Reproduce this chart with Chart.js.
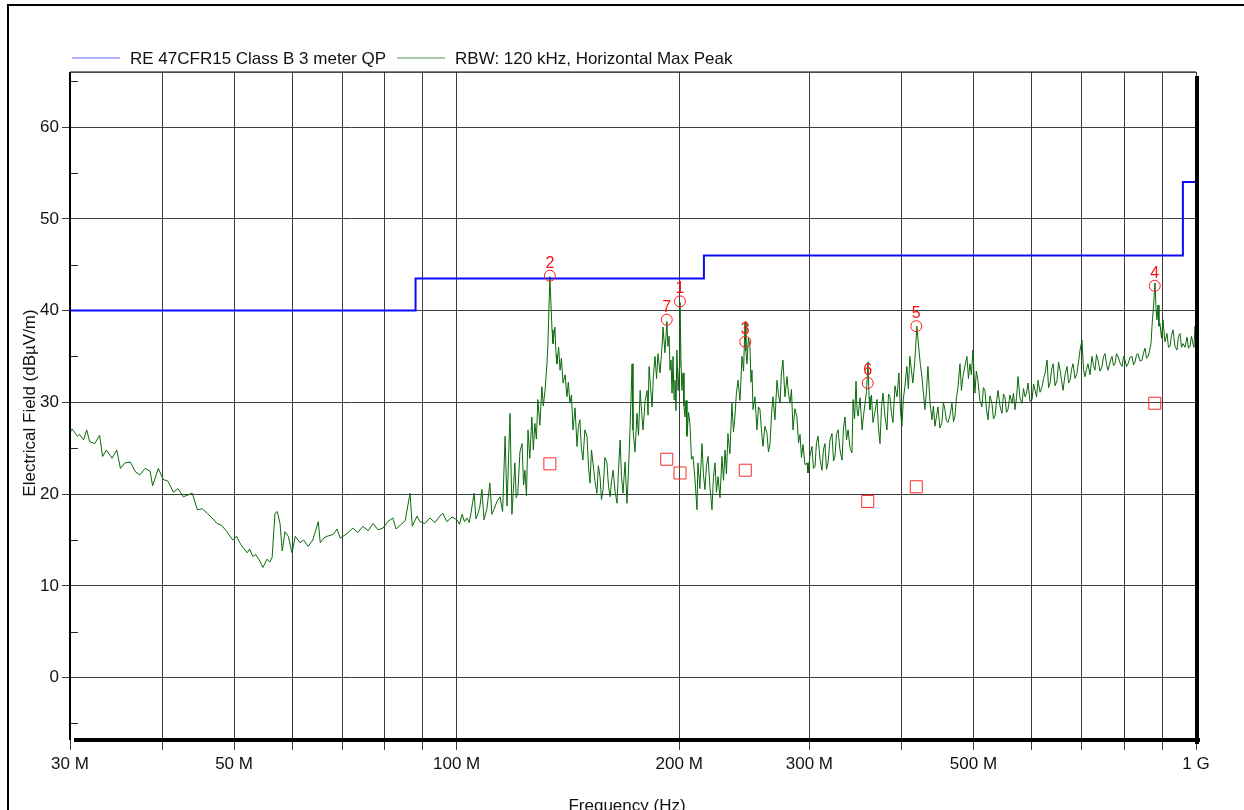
<!DOCTYPE html>
<html>
<head>
<meta charset="utf-8">
<script src="https://cdn.jsdelivr.net/npm/chart.js@4.4.1/dist/chart.umd.min.js"></script>
<style>
  html, body { margin: 0; padding: 0; background: #fff; }
  #wrap { width: 1244px; height: 810px; }
</style>
</head>
<body>
<div id="wrap"><canvas id="emc" width="1244" height="810"></canvas></div>
<script>
// Radiated emission scan, 30 MHz - 1 GHz (values in MHz / dBuV/m)

const xTickMHz = [30, 40, 50, 60, 70, 80, 90, 100, 200, 300, 400, 500, 600, 700, 800, 900, 1000];
const xTickText = ['30 M', '', '50 M', '', '', '', '', '100 M', '200 M', '300 M', '', '500 M', '', '', '', '', '1 G'];
const yTickValues = [-5, 0, 5, 10, 15, 20, 25, 30, 35, 40, 45, 50, 55, 60, 65];

// FCC part 15 class B, 3 m, quasi-peak limit
const limitMHz = [30, 88, 88, 216, 216, 960, 960, 1000];
const limitDb = [40, 40, 43.5, 43.5, 46, 46, 54, 54];

// max peak sweep (horizontal)
const sweepMHz = [
  30.0, 30.2, 30.7, 30.9, 31.3, 31.6, 31.9, 32.4, 32.9, 33.2, 33.6, 34.2, 34.7, 35.1, 35.6, 36.2,
  36.8, 37.3, 37.9, 38.5, 38.8, 39.5, 40.1, 40.7, 41.4, 42.0, 42.7, 43.3, 43.9, 44.6, 45.3, 46.0,
  46.7, 47.4, 48.1, 48.9, 49.8, 50.4, 50.9, 51.5, 52.1, 52.5, 53.0, 53.5, 54.2, 54.7, 55.4, 55.9,
  56.3, 56.8, 57.2, 57.7, 58.1, 58.6, 59.2, 59.9, 60.5, 61.4, 62.1, 63.0, 63.9, 65.0, 65.4, 66.1,
  66.8, 68.1, 68.9, 69.6, 71.1, 72.4, 73.5, 74.7, 75.9, 77.1, 78.3, 79.5, 80.7, 82.0, 82.8, 83.9,
  85.2, 86.5, 87.1, 88.4,
  89.2, 90.6, 92.0, 93.5, 94.9, 95.8, 97.0, 98.6,
  100.1, 100.9, 101.7, 102.5, 103.3, 104.0, 104.6, 105.6, 106.2, 106.9,
  107.5, 108.2, 108.9, 109.9, 110.9, 111.6, 112.3, 113.4, 114.5, 115.4,
  116.3, 117.0, 118.1, 118.8, 119.9, 120.4, 121.0, 121.8, 122.6, 123.2,
  123.7, 124.3, 124.9, 125.6, 126.4, 127.0, 127.6, 128.2, 128.8, 129.6,
  130.4, 131.0, 131.7, 132.5, 132.9, 133.7, 134.6, 135.0, 135.8, 136.3,
  136.7, 137.4, 138.0, 138.6, 139.3, 140.2, 141.0, 141.6, 142.3, 143.0,
  143.7, 144.6, 145.5, 146.1, 146.8, 147.5, 148.2, 149.1, 150.1, 150.8,
  151.5, 152.2, 152.9, 153.8, 154.8, 155.5, 156.3, 157.0, 157.8, 158.7,
  159.7, 160.5, 161.3, 162.0, 162.8, 163.8, 164.8, 165.6, 166.4, 167.1,
  167.9, 169.0, 170.0, 170.8, 171.6, 172.2, 172.7, 173.2, 174.3, 175.4,
  176.2, 177.1, 177.9, 178.7, 179.9, 181.0, 181.5, 182.1, 183.0, 183.8,
  184.6, 185.5, 186.4, 187.2, 188.4, 189.6, 190.2, 191.3, 192.5, 193.1,
  193.8, 194.4, 195.0, 195.6, 196.2, 196.8, 197.4, 198.0, 198.6, 199.3,
  200.1, 200.5, 201.1, 201.7, 202.4, 203.0, 203.6, 204.3, 204.9, 205.9,
  206.8, 207.8, 208.8, 210.1, 211.4, 212.0, 213.3, 214.7, 215.7, 216.7,
  217.7, 218.8, 220.1, 221.5, 222.5, 223.6, 224.6, 225.7, 227.1, 228.5,
  229.6, 230.7, 231.7, 232.8, 234.2, 235.7, 236.8, 237.9, 239.0, 240.2,
  241.7, 243.2, 244.4, 245.5, 246.2, 247.0, 248.1, 249.3, 250.1, 250.9,
  251.7, 253.2, 254.8, 256.0, 257.2, 258.4, 259.6, 261.2, 262.9, 264.1,
  265.4, 266.6, 267.8, 269.5, 271.2, 272.5, 273.8, 275.0, 276.3, 278.0,
  279.8, 281.1, 282.4, 283.7, 285.1, 286.8, 288.6, 290.0, 291.4, 292.7,
  294.1, 295.9, 297.8, 298.7, 300.5, 302.4, 303.8, 305.3, 306.7, 308.2,
  310.1, 312.0, 313.4, 314.9, 316.4, 317.9, 319.9, 321.9, 323.4, 324.9,
  326.4, 328.0, 330.0, 332.1, 333.6, 335.2, 336.8, 338.4, 340.5, 342.6,
  343.7, 345.3, 346.9, 348.0, 349.1, 351.3, 353.5, 355.1, 356.8, 358.4,
  360.1, 361.2, 362.3, 364.0, 365.7, 368.0, 370.3, 372.0, 373.8, 375.5,
  377.3, 379.6, 382.0, 383.8, 385.6, 387.4, 389.2, 391.6, 394.1, 396.5,
  398.4, 400.2, 402.0, 403.9, 406.4, 408.3, 410.2, 412.1, 414.0, 416.6,
  419.3, 422.0, 424.0, 425.9, 427.9, 429.9, 432.0, 434.0, 436.7, 439.4,
  441.4, 443.5, 445.6, 447.7, 450.5, 453.3, 455.4, 457.5, 459.7, 461.9,
  464.8, 467.7, 469.9, 472.1, 474.3, 476.6, 479.5, 481.7, 484.0, 487.0,
  490.0, 492.3, 494.6, 496.9, 499.2, 502.3, 504.6, 507.0, 510.2, 513.4,
  515.8, 518.3, 520.7, 523.2, 526.4, 529.7, 532.2, 534.7, 537.2, 539.8,
  543.1, 546.5, 549.0, 551.6, 554.2, 556.8, 560.3, 563.8, 566.4, 569.1,
  571.8, 574.5, 578.1, 581.7, 584.4, 587.2, 589.9, 592.7, 596.4, 600.2,
  603.0, 605.8, 608.6, 611.5, 615.3, 619.2, 622.1, 625.0, 628.9, 631.8,
  634.8, 637.8, 640.8, 644.8, 648.8, 651.8, 654.9, 657.9, 661.0, 665.1,
  669.3, 672.4, 675.6, 678.7, 681.9, 686.1, 690.4, 693.6, 696.9, 701.2,
  704.4, 707.7, 711.0, 714.4, 718.8, 723.3, 726.7, 730.1, 733.5, 737.0,
  741.6, 746.3, 749.8, 753.4, 756.9, 760.4, 765.1, 769.9, 773.5, 777.1,
  780.7, 784.4, 789.3, 794.3, 798.0, 801.7, 805.5, 809.3, 814.3, 819.4,
  823.2, 827.1, 831.0, 834.9, 840.1, 845.4, 849.3, 853.3, 857.3, 861.4,
  865.3, 869.2, 872.0, 876.1, 880.2, 883.0, 885.7, 888.4, 891.1, 893.9,
  898.1, 902.3, 907.9, 913.6, 917.9, 922.2, 926.5, 930.9, 936.7, 942.5,
  946.9, 951.4, 955.9, 960.4, 966.4, 972.4, 976.9, 981.4, 986.0, 990.6,
  993.7, 996.8, 1000
];
const sweepDb = [
  26.7, 27.1, 26.3, 26.5, 25.9, 27.0, 25.7, 25.5, 26.4, 24.1, 24.8, 23.9, 24.8, 22.8, 23.4, 23.5,
  22.4, 22.1, 22.8, 22.5, 20.9, 22.8, 21.6, 21.4, 20.2, 20.6, 19.7, 19.9, 20.1, 18.3, 18.4, 17.9,
  17.4, 16.8, 16.6, 15.9, 15.0, 15.4, 14.7, 14.1, 13.6, 14.0, 13.2, 13.4, 12.7, 12.0, 12.9, 12.6,
  13.1, 17.9, 18.1, 16.8, 13.8, 15.9, 15.4, 13.6, 15.4, 14.7, 15.0, 14.3, 15.0, 17.0, 14.7, 15.2,
  15.4, 15.6, 16.2, 15.2, 15.7, 16.3, 15.8, 16.5, 16.0, 16.8, 16.1, 16.3, 17.0, 17.4, 16.2, 16.6,
  17.1, 20.1, 16.5, 17.6,
  17.0, 16.8, 17.4, 16.9, 17.6, 17.9, 17.0, 17.5,
  17.2, 16.7, 17.8, 17.0, 17.4, 16.9, 18.0, 20.1, 17.3, 17.9,
  18.6, 20.5, 17.2, 18.4, 21.2, 17.8, 18.3, 19.2, 19.7, 18.1,
  26.3, 18.7, 28.8, 17.8, 23.4, 19.6, 20.1, 24.6, 25.5, 21.0,
  22.6, 19.8, 27.0, 23.9, 28.4, 24.8, 27.7, 26.0, 30.3, 27.5,
  31.7, 29.6, 31.3, 34.2, 36.4, 43.7, 37.9, 36.4, 38.2, 35.2,
  34.2, 36.0, 33.5, 34.8, 32.1, 33.0, 30.6, 32.2, 29.9, 30.8,
  27.0, 29.4, 25.2, 27.3, 28.1, 25.0, 23.7, 27.0, 26.3, 22.9,
  21.2, 24.8, 23.4, 21.5, 20.1, 23.1, 21.9, 19.4, 20.5, 24.0,
  23.4, 20.8, 19.7, 21.4, 22.6, 20.3, 19.0, 22.8, 25.9, 21.9,
  20.1, 23.5, 19.0, 22.6, 27.0, 30.8, 34.2, 27.0, 24.6, 28.8,
  26.4, 31.3, 29.0, 27.0, 30.2, 31.3, 28.6, 33.9, 31.4, 29.5,
  33.0, 35.0, 32.6, 35.3, 33.2, 36.1, 38.2, 35.4, 38.8, 36.1,
  37.2, 33.5, 34.6, 31.0, 35.0, 30.3, 32.4, 29.1, 35.7, 31.3,
  33.8, 40.9, 34.6, 31.3, 33.2, 29.6, 28.4, 30.2, 26.3, 28.9,
  27.7, 23.8, 24.1, 21.6, 18.3, 23.4, 20.6, 25.5, 22.1, 20.5,
  23.0, 24.1, 20.8, 18.3, 21.8, 23.4, 20.2, 21.9, 19.6, 24.1,
  21.5, 24.8, 22.2, 26.6, 24.4, 29.9, 26.8, 28.4, 31.0, 32.4,
  30.2, 35.0, 33.4, 38.8, 35.6, 34.2, 37.0, 36.1, 32.2, 33.5,
  29.2, 30.6, 27.0, 29.5, 29.2, 27.0, 25.2, 27.4, 26.6, 24.6,
  25.5, 28.6, 30.6, 28.1, 32.4, 30.8, 29.9, 33.2, 34.6, 30.6,
  32.8, 31.0, 29.9, 31.4, 27.0, 29.3, 28.4, 25.6, 26.5, 24.0,
  25.4, 23.2, 23.4, 22.3, 24.1, 25.2, 22.8, 23.0, 25.6, 26.3,
  23.8, 22.6, 24.8, 25.5, 22.7, 23.4, 25.9, 26.6, 23.6, 24.1,
  26.5, 27.0, 24.8, 23.7, 27.2, 28.4, 25.9, 27.0, 25.0, 24.5,
  30.3, 28.2, 32.3, 29.1, 28.5, 30.5, 27.0, 28.6, 29.9, 31.2,
  34.4, 30.6, 29.2, 30.8, 27.8, 29.0, 30.3, 27.2, 25.5, 29.4,
  31.0, 28.5, 27.0, 30.9, 30.6, 28.8, 27.8, 31.8, 30.6, 33.2,
  29.0, 27.4, 30.4, 31.7, 33.9, 31.5, 35.0, 33.6, 32.1, 34.5,
  38.3, 35.7, 34.0, 32.8, 31.0, 29.2, 31.3, 33.9, 30.0, 28.1,
  29.6, 27.4, 28.4, 29.5, 27.2, 27.8, 30.0, 29.2, 28.0, 27.8,
  28.6, 29.9, 27.9, 28.5, 30.5, 31.7, 34.2, 31.3, 32.8, 34.0,
  35.0, 32.6, 34.2, 33.0, 35.7, 31.0, 33.4, 32.4, 30.2, 29.5,
  31.6, 31.3, 29.3, 28.1, 30.7, 29.9, 28.2, 28.5, 30.0, 31.3,
  29.6, 28.8, 30.9, 30.6, 28.9, 29.2, 30.8, 29.9, 31.0, 29.2,
  30.5, 32.8, 30.4, 29.9, 31.5, 30.6, 31.0, 32.1, 30.1, 30.3,
  32.0, 31.3, 30.6, 32.4, 31.1, 31.7, 32.6, 33.2, 34.6, 31.6,
  32.1, 33.6, 34.2, 31.8, 32.4, 34.4, 33.5, 32.4, 31.3, 33.0,
  33.9, 32.1, 32.4, 33.6, 34.2, 32.6, 33.2, 34.4, 35.7, 36.8,
  33.6, 32.8, 33.6, 34.2, 33.0, 35.0, 34.0, 33.5, 35.2, 34.6,
  33.4, 33.9, 35.0, 35.3, 34.1, 33.5, 34.4, 35.0, 34.0, 34.2,
  35.3, 35.0, 34.3, 33.9, 35.0, 34.6, 33.9, 34.2, 34.9, 35.0,
  34.1, 34.4, 35.2, 35.3, 34.5, 34.6, 35.4, 35.9, 34.8, 35.0,
  35.6, 36.4, 38.3, 40.5, 43.0, 40.1, 39.0, 40.6, 38.3, 38.6,
  37.0, 39.0, 36.6, 37.5, 36.0, 36.1, 37.3, 37.9, 36.1, 35.7,
  37.2, 37.5, 36.0, 36.4, 36.0, 37.1, 35.9, 36.1, 37.2, 36.4,
  36.0, 38.3, 37.6
];

// final measurement markers
const markerNo = ['1', '2', '3', '4', '5', '6', '7'];
const markerMHz = [200.5, 133.7, 245.7, 879.4, 418.5, 359.8, 192.4];
const peakDb = [41.0, 43.8, 36.6, 42.7, 38.3, 32.1, 39.0];
const qpDb = [22.3, 23.3, 22.6, 29.9, 20.8, 19.2, 23.8];

const FONT = '"Liberation Sans", Arial, sans-serif';
const GRID = '#3c3c3c';

const toXY = (xs, ys) => xs.map((x, i) => ({ x: x, y: ys[i] }));

const decor = {
  id: 'decor',
  beforeDraw(chart) {
    const ctx = chart.ctx;
    ctx.save();
    ctx.fillStyle = '#fff';
    ctx.fillRect(0, 0, chart.width, chart.height);
    // outer frame of the report page
    ctx.fillStyle = '#000';
    ctx.fillRect(7, 4, chart.width, 2);
    ctx.fillRect(7, 4, 2, chart.height);
    ctx.restore();
  },
  afterDraw(chart) {
    const ctx = chart.ctx;
    const a = chart.chartArea;
    const ys = chart.scales.y;
    ctx.save();

    // plot frame with drop shadow right/bottom
    ctx.fillStyle = '#000';
    ctx.fillRect(a.left, a.top - 0.5, a.right - a.left, 1.2);
    ctx.fillRect(a.left - 1, a.top, 2, a.bottom - a.top);
    ctx.fillRect(a.right - 1, a.top + 4, 4, a.bottom - a.top);
    ctx.fillRect(a.left + 4, a.bottom - 2, a.right - a.left, 4);

    // minor y ticks drawn inward
    ctx.strokeStyle = '#222';
    ctx.lineWidth = 1;
    yTickValues.filter(v => v % 10 !== 0).forEach(v => {
      const py = Math.round(ys.getPixelForValue(v)) + 0.5;
      ctx.beginPath();
      ctx.moveTo(a.left, py);
      ctx.lineTo(a.left + 8, py);
      ctx.stroke();
    });

    // legend
    ctx.font = '17px ' + FONT;
    ctx.textBaseline = 'middle';
    ctx.textAlign = 'left';
    let lx = a.left + 2;
    [chart.data.datasets[1], chart.data.datasets[0]].forEach(ds => {
      ctx.strokeStyle = ds.legendColor;
      ctx.lineWidth = 1.2;
      ctx.beginPath();
      ctx.moveTo(lx, 58);
      ctx.lineTo(lx + 48, 58);
      ctx.stroke();
      ctx.fillStyle = '#111';
      ctx.fillText(ds.label, lx + 58, 59);
      lx += 58 + ctx.measureText(ds.label).width + 11;
    });

    // marker numbers above the peak circles
    const meta = chart.getDatasetMeta(2);
    ctx.fillStyle = '#ff1010';
    ctx.font = '16px ' + FONT;
    ctx.textAlign = 'center';
    ctx.textBaseline = 'alphabetic';
    meta.data.forEach((pt, i) => {
      ctx.fillText(markerNo[i], pt.x, pt.y - 8);
    });

    // axis titles
    ctx.fillStyle = '#111';
    ctx.font = '17px ' + FONT;
    ctx.textBaseline = 'middle';
    ctx.fillText('Frequency (Hz)', (a.left + a.right) / 2 - 6, 806);
    ctx.translate(30, (a.top + a.bottom) / 2 - 3);
    ctx.rotate(-Math.PI / 2);
    ctx.fillText('Electrical Field (dBµV/m)', 0, 0);

    ctx.restore();
  }
};

new Chart(document.getElementById('emc').getContext('2d'), {
  type: 'line',
  data: {
    datasets: [{
      label: 'RBW: 120 kHz, Horizontal Max Peak',
      data: toXY(sweepMHz, sweepDb),
      borderColor: '#0a6a0a',
      legendColor: '#4f9a4f',
      borderWidth: 1,
      pointRadius: 0,
      tension: 0,
      order: 3
    }, {
      label: 'RE 47CFR15 Class B 3 meter QP',
      data: toXY(limitMHz, limitDb),
      borderColor: '#0a0aff',
      legendColor: '#6262ff',
      borderWidth: 2,
      pointRadius: 0,
      tension: 0,
      order: 2
    }, {
      type: 'scatter',
      label: 'Peak',
      data: toXY(markerMHz, peakDb),
      pointStyle: 'circle',
      pointRadius: 5.5,
      borderColor: '#ff1a1a',
      backgroundColor: 'rgba(0,0,0,0)',
      borderWidth: 1,
      order: 1
    }, {
      type: 'scatter',
      label: 'QP',
      data: toXY(markerMHz, qpDb),
      pointStyle: 'rect',
      pointRadius: 8.5,
      borderColor: '#ff2a2a',
      backgroundColor: 'rgba(0,0,0,0)',
      borderWidth: 1,
      order: 1
    }]
  },
  options: {
    responsive: false,
    animation: false,
    devicePixelRatio: 1,
    layout: { padding: { left: 8, top: 72, right: 48, bottom: 0 } },
    plugins: {
      legend: { display: false },
      tooltip: { enabled: false }
    },
    scales: {
      x: {
        type: 'logarithmic',
        min: 30,
        max: 1000,
        afterBuildTicks: s => { s.ticks = xTickMHz.map(v => ({ value: v })); },
        afterFit: s => { s.height = 70; },
        border: { display: false },
        grid: { color: GRID, lineWidth: 1, tickLength: 10, tickColor: GRID },
        ticks: {
          autoSkip: false,
          maxRotation: 0,
          padding: 4,
          color: '#111',
          font: { family: FONT, size: 17 },
          callback: (v, i) => xTickText[i]
        }
      },
      y: {
        min: -6.8,
        max: 66,
        afterBuildTicks: s => { s.ticks = yTickValues.map(v => ({ value: v })); },
        afterFit: s => { s.width = 62; },
        border: { display: false },
        grid: {
          color: c => (c.tick && c.tick.value % 10 === 0) ? GRID : 'rgba(0,0,0,0)',
          tickColor: c => (c.tick && c.tick.value % 10 === 0) ? GRID : 'rgba(0,0,0,0)',
          lineWidth: 1,
          tickLength: 8
        },
        ticks: {
          padding: 3,
          color: '#111',
          font: { family: FONT, size: 17 },
          callback: v => (v % 10 === 0 ? String(v) : '')
        }
      }
    }
  },
  plugins: [decor]
});
</script>
</body>
</html>
